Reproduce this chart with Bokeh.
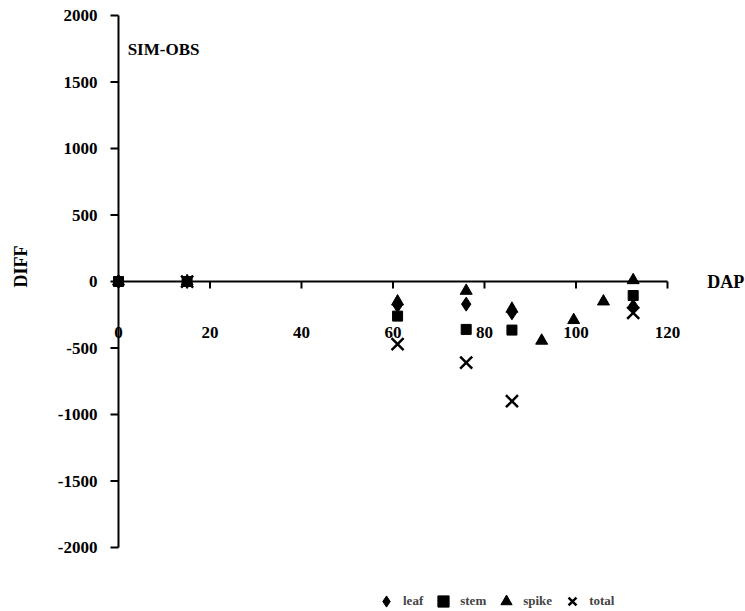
import numpy as np
from bokeh.plotting import figure
from bokeh.models import Range1d, Label, Legend, LegendItem
from bokeh.core.properties import value
from bokeh.embed import file_html
from bokeh.resources import INLINE

# ---- data ----
leaf_dap = [0, 15, 61, 76, 86, 112.5]
leaf_diff = [0, 0, -180, -170, -235, -185]

stem_dap = [0, 15, 61, 76, 86, 112.5]
stem_diff = [0, 0, -260, -360, -365, -105]

spike_dap = [0, 15, 61, 76, 86, 92.5, 99.5, 106, 112.5]
spike_diff = [0, 0, -150, -70, -205, -445, -290, -150, 10]

total_dap = [15, 61, 76, 86, 112.5]
total_diff = [0, -470, -610, -900, -235]

x_ticks = [0, 20, 40, 60, 80, 100, 120]
x_labels = ["0", "20", "40", "60", "80", "100", "120"]
y_ticks = [-2000, -1500, -1000, -500, 0, 500, 1000, 1500, 2000]
y_labels = ["-2000", "-1500", "-1000", "-500", "0", "500", "1000", "1500", "2000"]

FONT_NAME = "Liberation Serif"
FONT = value(FONT_NAME)

p = figure(width=745, height=611,
           x_range=Range1d(-25.79, 137.05), y_range=Range1d(-2481, 2113),
           x_axis_type=None, y_axis_type=None,
           output_backend="svg", toolbar_location=None,
           min_border=0, outline_line_color=None,
           background_fill_color="white", border_fill_color="white")

# axes drawn as glyphs (axes cross at the origin)
p.segment(x0=[0], y0=[y_ticks[0]], x1=[0], y1=[y_ticks[-1]],
          line_color="black", line_width=2)
p.segment(x0=[x_ticks[0]], y0=[0], x1=[x_ticks[-1]], y1=[0],
          line_color="black", line_width=2)
p.ray(x=[0] * len(y_ticks), y=y_ticks, length=8, length_units="screen",
      angle=np.pi, line_color="black", line_width=2)
p.ray(x=x_ticks[1:], y=[0] * (len(x_ticks) - 1), length=7, length_units="screen",
      angle=-np.pi / 2, line_color="black", line_width=2)
p.text(x=[0] * len(y_ticks), y=y_ticks, text=y_labels, x_offset=-21,
       text_align="right", text_baseline="middle", text_font=FONT,
       text_font_style="bold", text_font_size="17px", text_color="black")
p.text(x=x_ticks, y=[0] * len(x_ticks), text=x_labels, y_offset=51,
       text_align="center", text_baseline="middle", text_font=FONT,
       text_font_style="bold", text_font_size="17px", text_color="black")

# series
r_leaf = p.scatter(leaf_dap, leaf_diff, marker="diamond", size=14,
                   fill_color="black", line_color="black")
r_stem = p.scatter(stem_dap, stem_diff, marker="square", size=10,
                   fill_color="black", line_color="black")
r_spike = p.scatter(spike_dap, spike_diff, marker="triangle", size=12,
                    fill_color="black", line_color="black")
r_total = p.scatter(total_dap, total_diff, marker="x", size=17,
                    line_color="black", line_width=2.5)

# texts
p.add_layout(Label(x=2, y=1744, text="SIM-OBS", text_font=FONT_NAME,
                   text_font_style="bold", text_font_size="17px",
                   text_baseline="middle", text_color="black"))
p.add_layout(Label(x=128.7, y=0, text="DAP", text_font=FONT_NAME,
                   text_font_style="bold", text_font_size="18px",
                   text_baseline="middle", text_color="black"))
p.add_layout(Label(x=-21.4, y=113, text="DIFF", angle=np.pi / 2,
                   text_font=FONT_NAME, text_font_style="bold", text_font_size="18px",
                   text_align="center", text_baseline="middle", text_color="black"))

legend = Legend(items=[LegendItem(label="leaf", renderers=[r_leaf]),
                       LegendItem(label="stem", renderers=[r_stem]),
                       LegendItem(label="spike", renderers=[r_spike]),
                       LegendItem(label="total", renderers=[r_total])],
                orientation="horizontal", location=(372, -5),
                border_line_color=None, background_fill_alpha=0,
                label_text_font=FONT_NAME, label_text_font_style="bold",
                label_text_font_size="13px", glyph_width=28, glyph_height=30,
                spacing=6, padding=1, margin=0, label_standoff=3)
p.add_layout(legend)

open("out.html", "w").write(file_html(p, INLINE))
